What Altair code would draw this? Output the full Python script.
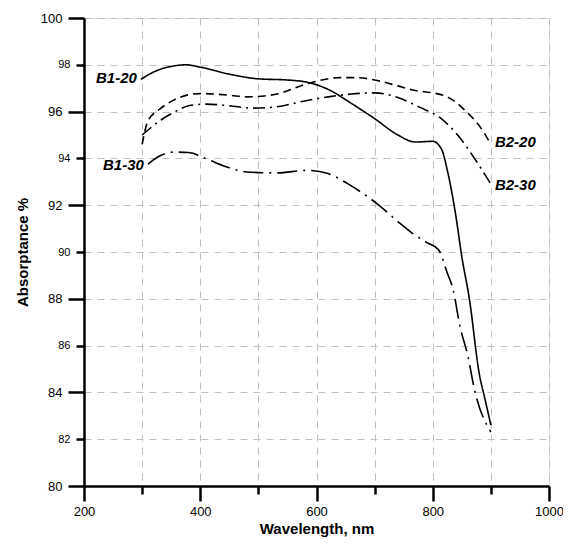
import altair as alt
import pandas as pd

# --- data ---
b1_20_x = [298, 325, 350, 375, 400, 450, 500, 550, 585, 620, 660, 700, 740, 770, 800, 815, 825, 840, 850, 863, 880, 890, 900]
b1_20_y = [97.38, 97.75, 97.93, 98.0, 97.9, 97.6, 97.4, 97.35, 97.25, 96.95, 96.35, 95.7, 95.0, 94.7, 94.73, 94.4, 93.5, 91.5, 89.8, 88.0, 84.8, 83.7, 82.6]

b2_20_x = [300, 310, 330, 355, 380, 400, 450, 480, 530, 585, 640, 670, 700, 740, 770, 800, 820, 840, 856, 880, 900]
b2_20_y = [94.6, 95.6, 96.1, 96.5, 96.72, 96.77, 96.7, 96.63, 96.74, 97.2, 97.45, 97.45, 97.35, 97.1, 96.9, 96.8, 96.68, 96.4, 96.04, 95.4, 94.6]

b2_30_x = [300, 330, 360, 380, 410, 450, 490, 530, 575, 620, 660, 700, 740, 778, 812, 846, 868, 900]
b2_30_y = [95.0, 95.6, 96.04, 96.25, 96.32, 96.25, 96.15, 96.2, 96.43, 96.63, 96.75, 96.8, 96.6, 96.18, 95.75, 94.9, 94.14, 92.9]

b1_30_x = [310, 330, 355, 380, 415, 450, 480, 530, 585, 620, 655, 680, 705, 740, 765, 790, 810, 825, 835, 847, 860, 872, 900]
b1_30_y = [93.75, 94.1, 94.27, 94.25, 93.93, 93.6, 93.42, 93.38, 93.49, 93.35, 92.9, 92.5, 92.05, 91.3, 90.8, 90.4, 90.1, 89.1, 88.4, 86.8, 85.6, 84.1, 82.3]

series_names = ["B1-20", "B2-20", "B2-30", "B1-30"]
series_x = [b1_20_x, b2_20_x, b2_30_x, b1_30_x]
series_y = [b1_20_y, b2_20_y, b2_30_y, b1_30_y]
series_dash = [[1, 0], [8, 5], [12, 5, 2, 5], [20, 6, 2, 6]]

label_text = ["B1-20", "B1-30", "B2-20", "B2-30"]
label_x = [291, 303, 907, 907]
label_y = [97.45, 93.7, 94.7, 92.87]
label_side = ["right", "right", "left", "left"]

x_ticks = list(range(200, 1001, 100))
y_ticks = list(range(80, 101, 2))

rows = []
for n, xs, ys in zip(series_names, series_x, series_y):
    for a, b in zip(xs, ys):
        rows.append({"series": n, "wl": a, "abs": b})
df = pd.DataFrame(rows)

lab = pd.DataFrame({"text": label_text, "wl": label_x, "abs": label_y, "side": label_side})

FONT = "Liberation Sans"

xscale = alt.Scale(domain=[200, 1000], nice=False, zero=False)
yscale = alt.Scale(domain=[80, 100], nice=False, zero=False)

xaxis = alt.Axis(
    title="Wavelength, nm", values=x_ticks, format="d", labelFlush=False,
    labelExpr="datum.value % 200 == 0 ? datum.label : ''",
    tickSize={"condition": {"test": "datum.value % 200 == 0", "value": 15}, "value": 8},
    labelFontSize=13, labelPadding=4, labelFont=FONT, labelColor="black",
    titleFont=FONT, titleFontSize=15, titleFontWeight="bold", titleColor="black", titlePadding=3,
    domainColor="black", domainWidth=2.5, tickColor="black", tickWidth=2.5,
    grid=True, gridDash=[7, 6], gridColor="#bfbfbf", gridWidth=1,
)
yaxis = alt.Axis(
    title="Absorptance %", values=y_ticks, labelFlush=False,
    tickSize={"condition": {"test": "datum.value % 4 == 0", "value": 16}, "value": 8},
    labelFontSize={"condition": {"test": "datum.value % 4 == 0", "value": 13}, "value": 11},
    labelPadding=6, labelFont=FONT, labelColor="black",
    titleFont=FONT, titleFontSize=15, titleFontWeight="bold", titleColor="black", titlePadding=10,
    domainColor="black", domainWidth=2.5, tickColor="black", tickWidth=2.5,
    grid=True, gridDash=[7, 6], gridColor="#bfbfbf", gridWidth=1,
)

lines = alt.Chart(df).mark_line(color="black", strokeWidth=1.6, interpolate="monotone").encode(
    x=alt.X("wl:Q", scale=xscale, axis=xaxis),
    y=alt.Y("abs:Q", scale=yscale, axis=yaxis),
    detail="series:N",
    strokeDash=alt.StrokeDash("series:N", scale=alt.Scale(domain=series_names, range=series_dash), legend=None),
)

txt_r = alt.Chart(lab[lab.side == "right"]).mark_text(
    align="right", baseline="middle", font=FONT, fontSize=15, fontWeight="bold", fontStyle="italic", color="black"
).encode(x=alt.X("wl:Q", scale=xscale), y=alt.Y("abs:Q", scale=yscale), text="text:N")

txt_l = alt.Chart(lab[lab.side == "left"]).mark_text(
    align="left", baseline="middle", font=FONT, fontSize=15, fontWeight="bold", fontStyle="italic", color="black"
).encode(x=alt.X("wl:Q", scale=xscale), y=alt.Y("abs:Q", scale=yscale), text="text:N")

chart = alt.layer(lines, txt_r, txt_l).properties(
    width=465, height=468, autosize="none",
    padding={"left": 76, "top": 10, "right": 14, "bottom": 53},
).configure_view(stroke=None).configure(background="white")

chart.save("out.html", embed_options={"renderer": "svg", "actions": False})
